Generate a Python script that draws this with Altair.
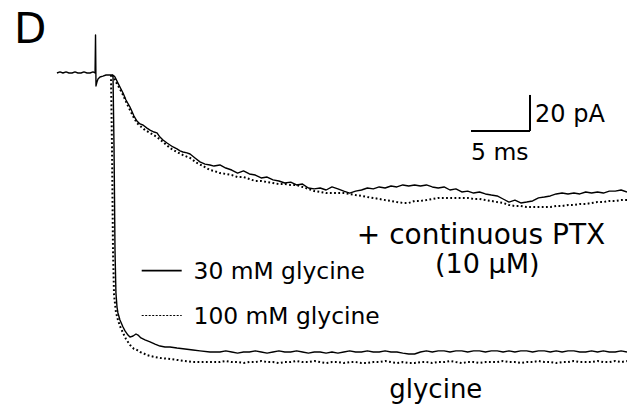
import altair as alt
import pandas as pd

# ---- trace data: time in ms (0 = stimulus artifact), current in pA ----
PRE_T = [-3.31, -3.05, -2.80, -2.54, -2.29, -2.03, -1.78, -1.53, -1.27, -1.02,
         -0.76, -0.51, -0.25, -0.08, -0.04, 0.0, 0.08, 0.17, 0.34, 0.59, 0.85, 1.10, 1.27, 1.44]
PRE_I = [0.0, 0.6, 0.0, 0.6, 0.0, 0.0, 0.6, 0.0, 0.0, 0.6,
         0.0, 0.0, 0.6, 0.0, 21.1, -7.2, -5.0, -3.3, -2.2, -1.7, -1.1, -1.1, -1.1, -1.1]

PTX30_T = [1.44, 1.61, 1.86, 2.03, 2.29, 2.54, 2.88, 3.22, 3.47, 3.73, 3.98, 4.32, 4.58, 4.92,
           5.17, 5.42, 5.68, 6.02, 6.27, 6.53, 6.86, 7.12, 7.37, 7.71, 7.97, 8.39, 8.81, 9.24, 9.66]
PTX30_I = [-1.1, -2.2, -5.6, -7.8, -11.1, -15.0, -18.9, -23.9, -26.7, -28.3, -28.9, -30.6, -31.7, -32.8,
           -33.3, -35.6, -37.2, -38.9, -40.0, -41.1, -42.2, -43.3, -43.9, -44.4, -45.0, -47.2, -49.4, -50.6, -51.1]

PTX100_T = [1.36, 1.53, 1.78, 2.03, 2.29, 2.63, 2.88, 3.22, 3.47, 3.73, 4.15, 4.58, 5.17, 5.68,
            6.27, 6.86, 7.37, 7.97, 8.56, 9.07, 9.66]
PTX100_I = [-1.1, -2.8, -6.1, -8.9, -12.2, -17.2, -20.6, -25.0, -27.8, -29.4, -31.7, -33.3, -35.6, -38.3,
            -41.7, -43.9, -45.6, -47.2, -50.0, -51.7, -53.9]

GLY30_T = [1.44, 1.53, 1.61, 1.69, 1.78, 1.86, 2.03, 2.29, 2.46, 2.71, 2.88, 3.14, 3.39, 3.56,
           3.81, 4.15, 4.58, 5.00, 5.42, 5.85, 6.27, 6.86, 7.54, 8.22, 8.81, 9.66]
GLY30_I = [-1.1, -42.8, -98.3, -122.2, -130.0, -133.3, -137.2, -141.1, -143.3, -145.6, -146.7, -146.1, -145.0, -145.6,
           -147.2, -148.3, -149.4, -150.6, -151.7, -152.2, -152.2, -152.8, -153.3, -153.9, -154.4, -155.0]

GLY100_T = [1.27, 1.36, 1.44, 1.53, 1.69, 1.86, 2.03, 2.29, 2.54, 2.88, 3.22, 3.47, 3.73, 3.98,
            4.32, 4.58, 5.00, 5.42, 6.27, 6.86, 7.54, 8.22, 8.81, 9.66]
GLY100_I = [-1.1, -42.8, -98.3, -123.3, -132.8, -137.2, -140.6, -144.4, -147.8, -151.1, -153.3, -153.9, -155.0, -155.6,
            -156.7, -157.2, -157.8, -158.3, -158.9, -159.4, -160.0, -160.6, -160.6, -160.6]

TAIL_T = [10.0, 10.5, 11.0, 11.5, 12.0, 12.5, 13.0, 13.5, 14.0, 14.5,
          15.0, 15.5, 16.0, 16.5, 17.0, 17.5, 18.0, 18.5, 19.0, 19.5,
          20.0, 20.5, 21.0, 21.5, 22.0, 22.5, 23.0, 23.5, 24.0, 24.5,
          25.0, 25.5, 26.0, 26.5, 27.0, 27.5, 28.0, 28.5, 29.0, 29.5,
          30.0, 30.5, 31.0, 31.5, 32.0, 32.5, 33.0, 33.5, 34.0, 34.5,
          35.0, 35.5, 36.0, 36.5, 37.0, 37.5, 38.0, 38.5, 39.0, 39.5,
          40.0, 40.5, 41.0, 41.5, 42.0, 42.5, 43.0, 43.5, 44.0, 44.5,
          45.0]

PTX30_TAIL = [-51.7, -51.1, -52.8, -53.9, -55.6, -54.4, -56.1, -56.7, -58.3, -57.8,
              -59.4, -60.0, -61.1, -60.6, -62.2, -61.7, -63.9, -64.4, -63.9, -65.0,
              -63.3, -64.4, -65.6, -66.7, -65.6, -65.0, -63.9, -64.4, -63.3, -63.9,
              -62.8, -63.3, -62.2, -62.8, -62.2, -62.8, -62.2, -63.3, -63.9, -63.3,
              -65.0, -64.4, -66.1, -65.6, -66.7, -66.1, -67.2, -67.8, -68.3, -70.0,
              -71.7, -70.6, -72.2, -71.7, -71.1, -69.4, -68.9, -68.3, -67.2, -66.7,
              -67.2, -66.7, -67.2, -66.1, -66.7, -66.1, -66.7, -65.6, -65.6, -65.0,
              -66.1]

PTX100_TAIL = [-54.4, -55.6, -56.1, -56.7, -57.8, -57.8, -58.9, -60.0, -60.0, -60.6,
               -61.1, -61.7, -61.7, -62.2, -62.2, -63.3, -64.4, -65.6, -66.1, -66.7,
               -66.7, -66.7, -66.7, -67.2, -67.8, -68.3, -68.9, -69.4, -70.0, -70.6,
               -71.1, -71.7, -72.2, -72.2, -71.1, -71.1, -70.6, -70.0, -69.4, -69.4,
               -69.4, -69.4, -69.4, -69.4, -70.0, -70.0, -70.6, -71.1, -71.7, -72.2,
               -73.3, -73.9, -73.9, -74.4, -74.4, -74.4, -74.4, -74.4, -73.9, -73.9,
               -73.3, -73.3, -72.8, -72.8, -72.2, -71.7, -71.7, -71.1, -71.1, -70.6,
               -70.6]

GLY30_TAIL = [-155.0, -155.0, -154.4, -155.0, -155.6, -155.0, -155.0, -154.4, -155.0, -155.6,
              -155.0, -154.4, -155.0, -155.0, -154.4, -155.0, -155.6, -155.0, -155.0, -155.6,
              -155.0, -155.6, -155.0, -154.4, -155.0, -155.0, -154.4, -155.0, -155.0, -154.4,
              -155.0, -155.0, -155.6, -156.1, -156.1, -155.0, -154.4, -155.0, -154.4, -154.4,
              -155.0, -154.4, -154.4, -155.0, -154.4, -154.4, -155.0, -154.4, -154.4, -155.0,
              -154.4, -155.0, -154.4, -154.4, -155.0, -154.4, -154.4, -155.0, -154.4, -155.0,
              -154.4, -154.4, -155.0, -155.0, -154.4, -155.0, -154.4, -155.0, -155.0, -154.4,
              -155.0]

GLY100_TAIL = [-160.6, -160.6, -160.0, -160.6, -160.6, -161.1, -160.6, -160.6, -160.0, -160.6,
               -160.6, -161.1, -160.6, -160.6, -160.0, -160.6, -160.6, -160.0, -160.6, -161.1,
               -160.6, -160.6, -161.1, -160.6, -160.6, -161.1, -161.1, -160.6, -160.6, -160.0,
               -160.6, -161.1, -160.6, -161.1, -161.1, -160.6, -160.6, -161.1, -160.6, -160.6,
               -160.0, -160.6, -161.1, -160.6, -160.6, -161.1, -160.6, -160.6, -160.6, -160.0,
               -160.6, -160.6, -161.1, -160.6, -160.6, -160.0, -160.6, -160.6, -161.1, -160.6,
               -160.6, -160.0, -160.6, -160.6, -160.6, -160.0, -160.6, -160.6, -160.0, -160.6,
               -160.0]

SCALE_MS = 5
SCALE_PA = 20
LEGEND_LABELS = ["30 mM glycine", "100 mM glycine"]
PANEL = "D"
LABEL_PTX = ["+ continuous PTX", "(10 µM)"]
LABEL_GLY = "glycine"

# ---- assemble table ----
rows = []
def add(name, ts, vals, dotted):
    for k, (t, v) in enumerate(zip(ts, vals)):
        rows.append({"series": name, "t": t, "i": v, "ord": k, "dotted": dotted})

add("pre", PRE_T, PRE_I, False)
add("ptx30", PTX30_T + TAIL_T, PTX30_I + PTX30_TAIL, False)
add("gly30", GLY30_T + TAIL_T, GLY30_I + GLY30_TAIL, False)
add("ptx100", PTX100_T + TAIL_T, PTX100_I + PTX100_TAIL, True)
add("gly100", GLY100_T + TAIL_T, GLY100_I + GLY100_TAIL, True)
df = pd.DataFrame(rows)

W, H = 619, 396
XS = alt.Scale(domain=[-7.4576, 45.0], nice=False, zero=False)
YS = alt.Scale(domain=[-183.89, 36.11], nice=False, zero=False)
FONT = "DejaVu Sans"

solid = alt.Chart(df).transform_filter("datum.dotted == false").mark_line(
    color="black", strokeWidth=1.4, strokeJoin="round"
).encode(
    x=alt.X("t:Q", scale=XS, axis=None),
    y=alt.Y("i:Q", scale=YS, axis=None),
    detail="series:N",
    order="ord:Q",
)

dotted = alt.Chart(df).transform_filter("datum.dotted == true").mark_line(
    color="black", strokeWidth=2.0, strokeDash=[1.8, 2.4]
).encode(
    x=alt.X("t:Q", scale=XS, axis=None),
    y=alt.Y("i:Q", scale=YS, axis=None),
    detail="series:N",
    order="ord:Q",
)

# scale bar (data coordinates)
bar_t0, bar_i0 = 31.78, -32.2
hbar = alt.Chart(pd.DataFrame({"t": [bar_t0], "t2": [bar_t0 + SCALE_MS], "i": [bar_i0]})).mark_rule(
    color="black", strokeWidth=2
).encode(x=alt.X("t:Q", scale=XS, axis=None), x2="t2:Q", y=alt.Y("i:Q", scale=YS, axis=None))
vbar = alt.Chart(pd.DataFrame({"t": [bar_t0 + SCALE_MS], "i": [bar_i0], "i2": [bar_i0 + SCALE_PA]})).mark_rule(
    color="black", strokeWidth=2
).encode(x=alt.X("t:Q", scale=XS, axis=None), y=alt.Y("i:Q", scale=YS, axis=None), y2="i2:Q")


def label(text, x, y, size, align="left"):
    return alt.Chart(pd.DataFrame({"label": [text]})).mark_text(
        align=align, baseline="alphabetic", font=FONT, fontSize=size, color="black"
    ).encode(x=alt.value(x), y=alt.value(y), text="label:N")


texts = [
    label(PANEL, 6, 35.3, 42),
    label(f"{SCALE_PA} pA", 527, 114.3, 24),
    label(f"{SCALE_MS} ms", 463, 152, 23.5),
    label(LABEL_PTX[0], 473, 236.3, 28, "center"),
    label(LABEL_PTX[1], 479.3, 265.3, 27, "center"),
    label(LABEL_GLY, 427.8, 389.5, 26, "center"),
    label(LEGEND_LABELS[0], 185.5, 271.3, 23.4),
    label(LEGEND_LABELS[1], 185.5, 316, 23.4),
]

leg_solid = alt.Chart(pd.DataFrame({"k": [0]})).mark_rule(color="black", strokeWidth=1.8).encode(
    x=alt.value(133.7), x2=alt.value(173.7), y=alt.value(262.7)
)
leg_dot = alt.Chart(pd.DataFrame({"k": [0]})).mark_rule(
    color="black", strokeWidth=1.1, strokeDash=[2, 1.5]
).encode(x=alt.value(133.7), x2=alt.value(173.7), y=alt.value(307.5))

chart = alt.layer(solid, dotted, hbar, vbar, leg_solid, leg_dot, *texts).properties(
    width=W, height=H, autosize=alt.AutoSizeParams(type="none"), padding=0, background="white"
).configure_view(stroke=None)

chart.save("out.html", embed_options={"renderer": "svg", "actions": False})
